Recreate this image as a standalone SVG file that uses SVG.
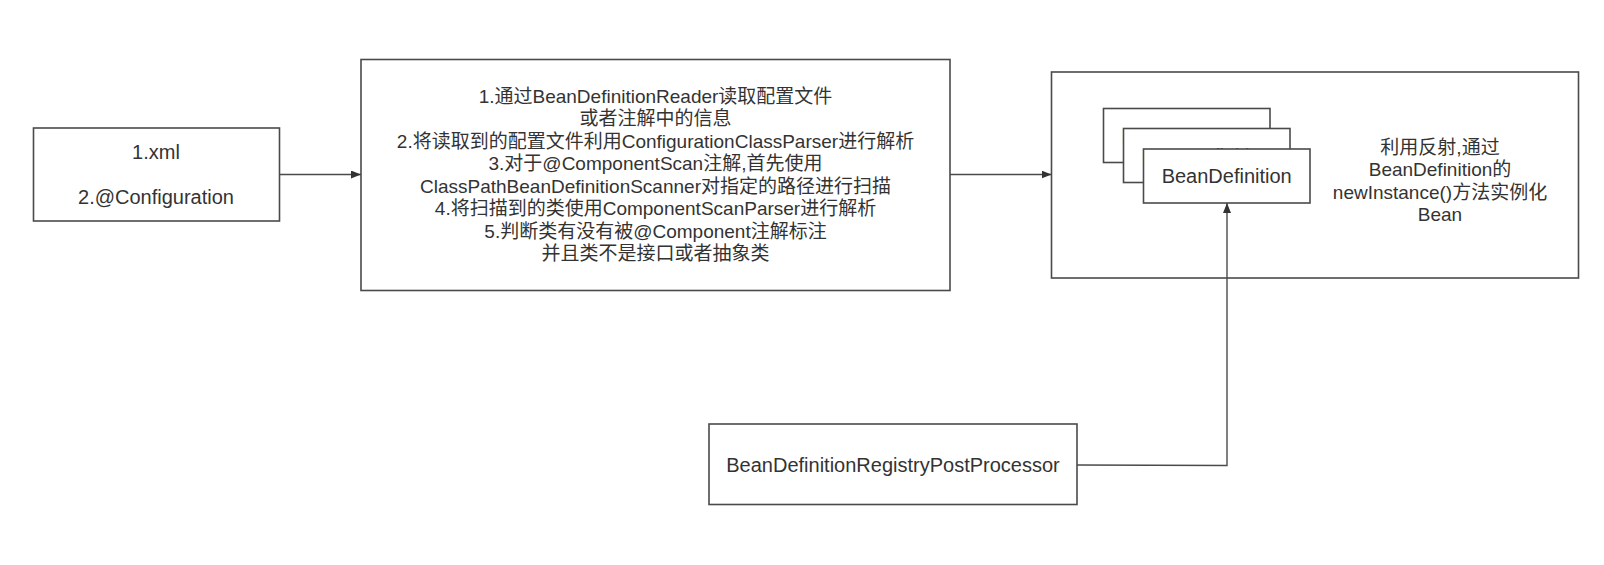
<svg xmlns="http://www.w3.org/2000/svg" width="1604" height="565" viewBox="0 0 1604 565">
<style>
.box{fill:#fff;stroke:#4a4a4a;stroke-width:1.6}
.t{font-family:"Liberation Sans","Noto Sans CJK SC",sans-serif;fill:#333;text-anchor:middle;dominant-baseline:central}
.c{fill:none;stroke:#4a4a4a;stroke-width:1.4}
</style>
<defs>
<marker id="ah" viewBox="0 0 10 8" refX="10" refY="4" markerWidth="10" markerHeight="8" markerUnits="userSpaceOnUse" orient="auto">
<path d="M0,0 L10,4 L0,8 Z" fill="#333"/>
</marker>
</defs>
<rect width="1604" height="565" fill="#fff"/>
<g id="n1">
<rect class="box" x="33.5" y="128" width="246" height="93"/>
<text class="t" x="156" y="152" font-size="20">1.xml</text>
<text class="t" x="156" y="197" font-size="20">2.@Configuration</text>
</g>
<g id="n2">
<rect class="box" x="361" y="59.5" width="589" height="231"/>
<g class="t" font-size="19">
<text class="t" x="655.5" y="96">1.通过BeanDefinitionReader读取配置文件</text>
<text class="t" x="655.5" y="118.5">或者注解中的信息</text>
<text class="t" x="655.5" y="141">2.将读取到的配置文件利用ConfigurationClassParser进行解析</text>
<text class="t" x="655.5" y="163.5">3.对于@ComponentScan注解,首先使用</text>
<text class="t" x="655.5" y="186">ClassPathBeanDefinitionScanner对指定的路径进行扫描</text>
<text class="t" x="655.5" y="208.5">4.将扫描到的类使用ComponentScanParser进行解析</text>
<text class="t" x="655.5" y="231">5.判断类有没有被@Component注解标注</text>
<text class="t" x="655.5" y="253.5">并且类不是接口或者抽象类</text>
</g>
</g>
<g id="n3">
<rect class="box" x="1051.5" y="72" width="527" height="206"/>
<g class="t" font-size="19">
<text class="t" x="1440" y="147">利用反射,通过</text>
<text class="t" x="1440" y="169.5">BeanDefinition的</text>
<text class="t" x="1440" y="192">newInstance()方法实例化</text>
<text class="t" x="1440" y="214.5">Bean</text>
</g>
</g>
<g id="bd3">
<rect class="box" x="1103.5" y="108.5" width="166.5" height="54"/>
<text class="t" x="1186.7" y="135.5" font-size="20">BeanDefinition</text>
</g>
<g id="bd2">
<rect class="box" x="1123.5" y="128.5" width="166.5" height="54"/>
<text class="t" x="1206.7" y="155.5" font-size="20">BeanDefinition</text>
</g>
<g id="bd1">
<rect class="box" x="1143.5" y="149" width="166.5" height="54"/>
<text class="t" x="1226.7" y="176" font-size="20">BeanDefinition</text>
</g>
<g id="n4">
<rect class="box" x="709" y="424" width="368" height="80.5"/>
<text class="t" x="893" y="465" font-size="20">BeanDefinitionRegistryPostProcessor</text>
</g>
<g id="connectors">
<path class="c" d="M279.5,174.5 L361,174.5" marker-end="url(#ah)"/>
<path class="c" d="M950,174.5 L1051.5,174.5" marker-end="url(#ah)"/>
<path class="c" d="M1077,465 L1227,465.5 L1227,203" marker-end="url(#ah)"/>
</g>
</svg>
